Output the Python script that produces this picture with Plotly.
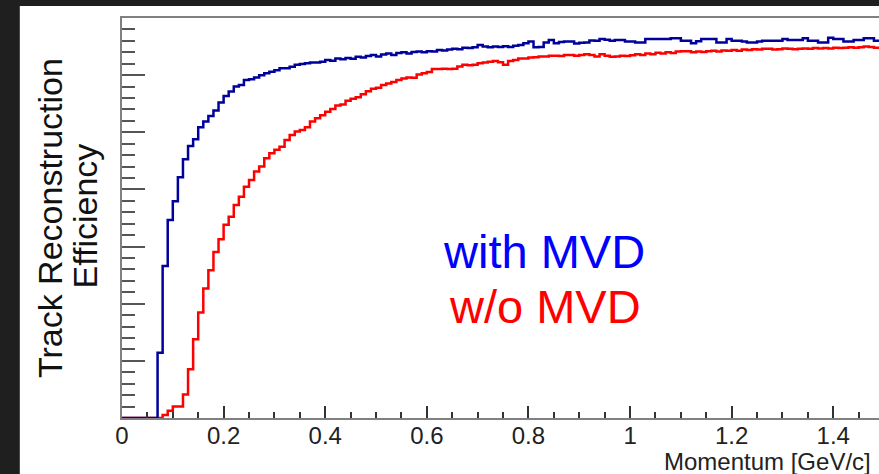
import plotly.graph_objects as go

# Bin edges: 0.00 .. 1.50 in steps of 0.01 (150 bins)
bin_width = 0.01
n_bins = 150

with_mvd = [
    0, 0, 0, 0, 0, 0, 0,
    0.171, 0.399, 0.520, 0.569, 0.632, 0.679, 0.714, 0.732, 0.763, 0.778,
    0.793, 0.807, 0.828, 0.845, 0.857, 0.870, 0.874, 0.887, 0.889, 0.894,
    0.900, 0.905, 0.909, 0.913, 0.918, 0.918, 0.922, 0.927, 0.929, 0.931,
    0.933, 0.933, 0.935, 0.940, 0.938, 0.944, 0.942, 0.945, 0.943, 0.948,
    0.946, 0.950, 0.953, 0.949, 0.954, 0.957, 0.953, 0.958, 0.960, 0.957,
    0.961, 0.962, 0.960, 0.963, 0.962, 0.966, 0.965, 0.967, 0.969, 0.968,
    0.972, 0.971, 0.973, 0.979, 0.975, 0.973, 0.975, 0.974, 0.976, 0.974,
    0.977, 0.979, 0.984, 0.988, 0.973, 0.974, 0.986, 0.992, 0.984, 0.987,
    0.988, 0.988, 0.983, 0.985, 0.986, 0.991, 0.990,
    0.995, 0.993, 0.990, 0.992, 0.992, 0.988, 0.988, 0.986, 0.986, 0.995,
    0.995, 0.995, 0.995, 0.995, 0.997, 0.997, 0.990, 0.990, 0.984, 0.989,
    0.995, 0.995, 0.995, 0.986, 0.986, 0.995, 0.990, 0.990, 0.988, 0.986,
    0.986, 0.988, 0.990, 0.990, 0.990, 0.990, 0.995, 0.992, 0.992, 0.992,
    0.997, 0.990, 0.990, 0.986, 0.986, 0.998, 0.995, 0.995, 0.988, 0.988,
    0.992, 0.992, 0.997, 0.997, 0.990, 0.990,
]

without_mvd = [
    0, 0, 0, 0, 0, 0, 0, 0,
    0.008, 0.019, 0.030, 0.030, 0.062, 0.128, 0.207, 0.277, 0.340, 0.388,
    0.436, 0.469, 0.507, 0.528, 0.559, 0.581, 0.607, 0.625, 0.647, 0.660,
    0.682, 0.695, 0.704, 0.712, 0.730, 0.743, 0.752, 0.756, 0.763, 0.778,
    0.787, 0.795, 0.804, 0.811, 0.820, 0.823, 0.833, 0.838, 0.842, 0.850,
    0.858, 0.864, 0.867, 0.874, 0.878, 0.882, 0.887, 0.891, 0.894, 0.893,
    0.902, 0.905, 0.908, 0.916, 0.916, 0.917, 0.916, 0.917, 0.923, 0.927,
    0.926, 0.927, 0.931, 0.933, 0.935, 0.937, 0.934, 0.927, 0.937, 0.940,
    0.944, 0.944, 0.946, 0.947, 0.949, 0.949, 0.951, 0.951, 0.950, 0.953,
    0.953, 0.951, 0.953, 0.955, 0.953, 0.949,
    0.955, 0.951, 0.948, 0.949, 0.951, 0.950, 0.952, 0.955, 0.953, 0.957,
    0.955, 0.959, 0.957, 0.960, 0.958, 0.962, 0.963, 0.963, 0.960, 0.962,
    0.961, 0.963, 0.964, 0.962, 0.965, 0.964, 0.966, 0.964, 0.967, 0.966,
    0.968, 0.967, 0.969, 0.969, 0.967, 0.968, 0.970, 0.969, 0.968, 0.969,
    0.970, 0.969, 0.971, 0.970, 0.971, 0.970, 0.972, 0.971, 0.972, 0.973,
    0.972, 0.973, 0.975, 0.974, 0.972, 0.972,
]

x_tick_vals = [0, 0.2, 0.4, 0.6, 0.8, 1.0, 1.2, 1.4]
x_tick_text = ["0", "0.2", "0.4", "0.6", "0.8", "1", "1.2", "1.4"]

edges = [round(i * bin_width, 4) for i in range(n_bins + 1)]


def step_y(vals):
    return list(vals) + [vals[-1]]


fig = go.Figure()
fig.add_trace(go.Scatter(
    x=edges, y=step_y(without_mvd), mode="lines", line_shape="hv",
    line=dict(color="#ff0000", width=2.5), showlegend=False, hoverinfo="skip"))
fig.add_trace(go.Scatter(
    x=edges, y=step_y(with_mvd), mode="lines", line_shape="hv",
    line=dict(color="#00009a", width=2.5), showlegend=False, hoverinfo="skip"))

font_family = "Liberation Sans, Arial, sans-serif"

fig.update_layout(
    width=879, height=474,
    margin=dict(l=122, r=0, t=18, b=56),
    paper_bgcolor="#1f1f1f",
    plot_bgcolor="#ffffff",
    showlegend=False,
    font=dict(family=font_family, color="#222222"),
    shapes=[dict(type="rect", xref="paper", yref="paper",
                 x0=-0.135, x1=1.01, y0=-0.2, y1=1.03,
                 fillcolor="#ffffff", line=dict(width=0), layer="below")],
    xaxis=dict(
        range=[0, 1.49], tickmode="array", tickvals=x_tick_vals, ticktext=x_tick_text,
        ticks="inside", ticklen=12, tickwidth=2, tickcolor="#333333",
        showline=True, linecolor="#808080", linewidth=2, mirror=True,
        showgrid=False, zeroline=False, ticklabelstandoff=-5,
        tickfont=dict(size=24, color="#222222", family=font_family),
        minor=dict(dtick=0.05, tick0=0, ticks="inside", ticklen=6, tickwidth=2,
                   tickcolor="#333333", showgrid=False),
    ),
    yaxis=dict(
        range=[0, 1.05], tick0=0, dtick=0.15,
        ticks="inside", ticklen=23, tickwidth=2, tickcolor="#555555",
        showticklabels=False,
        showline=True, linecolor="#808080", linewidth=2,
        showgrid=False, zeroline=False,
        minor=dict(dtick=0.03, ticks="inside", ticklen=13, tickwidth=2,
                   tickcolor="#555555", showgrid=False),
    ),
    annotations=[
        dict(text="Track Reconstruction", xref="paper", yref="paper",
             x=-0.095, y=0.5, textangle=-90, showarrow=False,
             xanchor="center", yanchor="middle",
             font=dict(size=34, color="#111111", family=font_family)),
        dict(text="Efficiency", xref="paper", yref="paper",
             x=-0.049, y=0.506, textangle=-90, showarrow=False,
             xanchor="center", yanchor="middle",
             font=dict(size=34, color="#111111", family=font_family)),
        dict(text="with MVD", xref="paper", yref="paper",
             x=0.5575, y=0.4175, showarrow=False,
             xanchor="center", yanchor="middle",
             font=dict(size=47, color="#0000ff", family=font_family)),
        dict(text="w/o MVD", xref="paper", yref="paper",
             x=0.5588, y=0.28, showarrow=False,
             xanchor="center", yanchor="middle",
             font=dict(size=47, color="#ff0000", family=font_family)),
        dict(text="Momentum [GeV/c]", xref="paper", yref="paper",
             x=0.992, y=-0.108, showarrow=False,
             xanchor="right", yanchor="middle",
             font=dict(size=24, color="#222222", family=font_family)),
    ],
)

page_fix = (
    "document.documentElement.style.margin='0';"
    "document.documentElement.style.background='#1f1f1f';"
    "document.body.style.margin='0';"
    "document.body.style.padding='0';"
    "document.body.style.overflow='hidden';"
)

fig.write_html("out.html", post_script=page_fix,
               config={"displayModeBar": False, "staticPlot": True})
